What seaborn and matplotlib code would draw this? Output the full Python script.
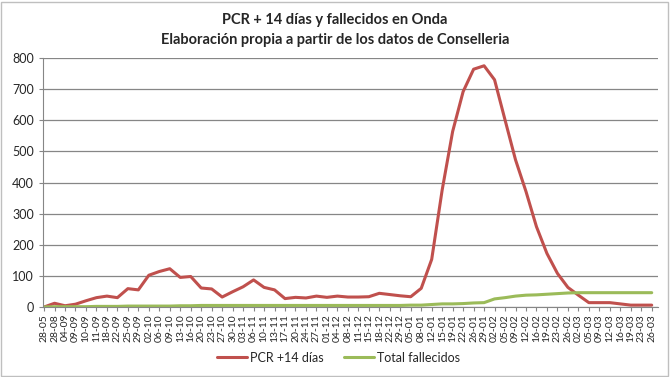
import seaborn as sns
import matplotlib.pyplot as plt
import pandas as pd
from matplotlib.patches import Rectangle

# dates (day-month) as shown on the x axis
fechas = [
    "28-05", "28-08", "04-09", "09-09", "10-09", "11-09", "18-09", "22-09", "25-09", "29-09",
    "02-10", "06-10", "09-10", "13-10", "16-10", "20-10", "23-10", "27-10", "30-10", "03-11",
    "06-11", "10-11", "13-11", "17-11", "20-11", "24-11", "27-11", "01-12", "04-12", "08-12",
    "11-12", "15-12", "18-12", "22-12", "29-12", "05-01", "08-01", "12-01", "15-01", "19-01",
    "22-01", "26-01", "29-01", "02-02", "05-02", "09-02", "12-02", "16-02", "19-02", "23-02",
    "26-02", "02-03", "05-03", "09-03", "12-03", "16-03", "19-03", "23-03", "26-03",
]
pcr_14 = [
    0, 12, 4, 9, 20, 30, 35, 30, 59, 55,
    102, 114, 123, 95, 98, 61, 58, 32, 49, 65,
    87, 63, 55, 27, 31, 29, 35, 31, 35, 32,
    32, 33, 44, 40, 36, 33, 60, 153, 376, 564,
    692, 764, 775, 730, 601, 473, 371, 258, 172, 108,
    63, 38, 14, 14, 14, 10, 6, 6, 6,
]
fallecidos = [
    0, 1, 1, 1, 1, 2, 2, 2, 3, 3,
    3, 3, 3, 4, 4, 5, 5, 5, 5, 5,
    5, 5, 5, 5, 5, 5, 5, 5, 5, 5,
    5, 5, 5, 5, 5, 6, 6, 8, 10, 10,
    11, 13, 14, 26, 30, 35, 38, 39, 41, 43,
    45, 46, 46, 46, 46, 46, 46, 46, 46,
]

df = pd.DataFrame({
    "idx": list(range(len(fechas))) * 2,
    "valor": pcr_14 + fallecidos,
    "serie": ["PCR +14 días"] * len(fechas) + ["Total fallecidos"] * len(fechas),
})

sns.set_style("white")
plt.rcParams["font.family"] = ["Lato", "DejaVu Sans"]

fig = plt.figure(figsize=(6.7, 3.77), dpi=100)
ax = fig.add_axes([43 / 670, 70 / 377, 615 / 670, 249 / 377])

sns.lineplot(data=df, x="idx", y="valor", hue="serie",
             palette=["#C0504D", "#9BBB59"], linewidth=2.2, ax=ax)

ax.set_xlim(-0.1, len(fechas) - 0.4)
ax.set_ylim(0, 800)
ax.set_yticks(range(0, 801, 100))
ax.set_xticks(range(len(fechas)))
ax.set_xticklabels(fechas, rotation=90, fontsize=7.5)
ax.tick_params(axis="y", labelsize=9, length=3, color="#868686", left=True)
ax.tick_params(axis="x", length=3, color="#868686", bottom=True, pad=2)
ax.grid(axis="y", color="#868686", linewidth=0.9)
ax.set_axisbelow(True)
for side in ["top", "right"]:
    ax.spines[side].set_visible(False)
for side in ["left", "bottom"]:
    ax.spines[side].set_color("#868686")
ax.set_xlabel("")
ax.set_ylabel("")

ax.legend(loc="lower center", bbox_to_anchor=(0.505, 0.005), bbox_transform=fig.transFigure,
          ncol=2, frameon=False, fontsize=9, handlelength=2.4, handletextpad=0.25,
          columnspacing=1.6)

fig.text(0.5, 0.965, "PCR + 14 días y fallecidos en Onda", ha="center", va="top",
         fontsize=10.5, fontweight="bold")
fig.text(0.5, 0.912, "Elaboración propia a partir de los datos de Conselleria", ha="center",
         va="top", fontsize=10.5, fontweight="bold")

# outer chart frame
fig.patches.append(Rectangle((0.002, 0.003), 0.995, 0.993, transform=fig.transFigure,
                             fill=False, edgecolor="#BFBFBF", linewidth=1))

fig.savefig("out.png", dpi=100)
plt.close()
